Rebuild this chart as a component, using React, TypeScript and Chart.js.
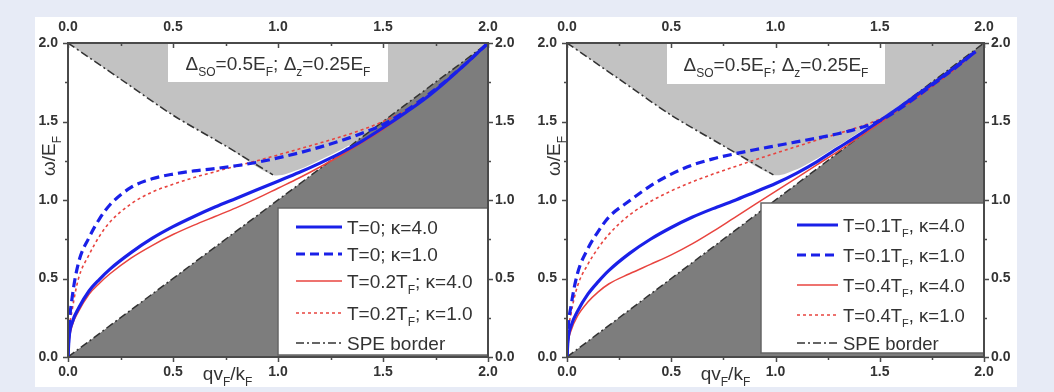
import React, { useEffect, useRef } from 'react';
import { Chart, registerables } from 'chart.js';

Chart.register(...registerables);

// ---------- data ----------
const TICK_LABELS = ['0.0', '0.5', '1.0', '1.5', '2.0'];
const TICK_VALUES = [0, 0.25, 0.5, 0.75, 1, 1.25, 1.5, 1.75, 2];

// left panel
const Q_LEFT = [0, 0.005, 0.02, 0.05, 0.1, 0.15, 0.2, 0.3, 0.4, 0.5, 0.6, 0.7, 0.8, 0.9, 1.0, 1.1, 1.2, 1.3, 1.4, 1.5, 1.6, 1.7, 1.8, 1.9, 2.0];
const L_T0_K4 = [0, 0.12, 0.22, 0.31, 0.42, 0.495, 0.56, 0.665, 0.755, 0.83, 0.895, 0.955, 1.01, 1.065, 1.12, 1.175, 1.235, 1.3, 1.375, 1.46, 1.55, 1.645, 1.755, 1.875, 2.0];
const L_T0_K1 = [0, 0.18, 0.38, 0.6, 0.76, 0.88, 0.97, 1.08, 1.135, 1.165, 1.185, 1.2, 1.218, 1.24, 1.268, 1.3, 1.337, 1.378, 1.425, 1.48, 1.56, 1.655, 1.76, 1.875, 2.0];
const L_T02_K4 = [0, 0.1, 0.2, 0.29, 0.4, 0.47, 0.53, 0.63, 0.71, 0.78, 0.84, 0.895, 0.95, 1.01, 1.075, 1.14, 1.21, 1.285, 1.365, 1.45, 1.545, 1.645, 1.75, 1.87, 2.0];
const L_T02_K1 = [0, 0.15, 0.3, 0.5, 0.65, 0.77, 0.86, 0.975, 1.05, 1.1, 1.143, 1.18, 1.215, 1.25, 1.287, 1.325, 1.363, 1.403, 1.447, 1.5, 1.565, 1.65, 1.755, 1.87, 2.0];
const L_GRAY_Q = [0, 0.25, 0.5, 0.75, 0.976, 1.1, 1.2, 1.3, 1.4, 1.5, 1.6, 1.7, 1.8, 1.9, 2.0];
const L_GRAY_W = [2, 1.77, 1.54, 1.345, 1.16, 1.195, 1.255, 1.32, 1.395, 1.48, 1.57, 1.665, 1.77, 1.885, 2.0];
const L_SPE_UP_Q = [0, 0.25, 0.5, 0.75, 0.976];
const L_SPE_UP_W = [2, 1.77, 1.54, 1.345, 1.16];

// right panel
const Q_RIGHT = [0, 0.005, 0.02, 0.05, 0.1, 0.15, 0.2, 0.3, 0.4, 0.5, 0.6, 0.7, 0.8, 0.9, 1.0, 1.1, 1.2, 1.3, 1.4, 1.5, 1.6, 1.7, 1.8, 1.9, 1.96];
const R_T01_K4 = [0, 0.11, 0.2, 0.29, 0.4, 0.48, 0.55, 0.66, 0.75, 0.825, 0.89, 0.945, 0.995, 1.05, 1.105, 1.17, 1.245, 1.33, 1.415, 1.505, 1.595, 1.69, 1.785, 1.885, 1.945];
const R_T01_K1 = [0, 0.17, 0.33, 0.53, 0.69, 0.8, 0.89, 0.995, 1.09, 1.165, 1.222, 1.262, 1.293, 1.32, 1.345, 1.37, 1.395, 1.422, 1.457, 1.505, 1.585, 1.68, 1.78, 1.88, 1.95];
const R_T04_K4 = [0, 0.09, 0.17, 0.26, 0.35, 0.415, 0.465, 0.53, 0.59, 0.65, 0.72, 0.8, 0.885, 0.97, 1.055, 1.14, 1.225, 1.31, 1.4, 1.49, 1.585, 1.68, 1.78, 1.88, 1.94];
const R_T04_K1 = [0, 0.14, 0.28, 0.45, 0.59, 0.695, 0.78, 0.905, 0.99, 1.058, 1.115, 1.165, 1.21, 1.255, 1.298, 1.34, 1.382, 1.423, 1.465, 1.515, 1.58, 1.67, 1.77, 1.875, 1.945];
const R_GRAY_Q = [0, 0.25, 0.5, 0.75, 0.99, 1.1, 1.2, 1.3, 1.4, 1.5, 1.6, 1.7, 1.8, 1.9, 2.0];
const R_GRAY_W = [2, 1.77, 1.54, 1.345, 1.16, 1.195, 1.265, 1.345, 1.43, 1.515, 1.605, 1.7, 1.795, 1.895, 2.0];
const R_SPE_UP_Q = [0, 0.25, 0.5, 0.75, 0.99];
const R_SPE_UP_W = [2, 1.77, 1.54, 1.345, 1.16];

const SPE_DIAG_Q = [0, 2];
const SPE_DIAG_W = [0, 2];

const LEFT_LABELS = ['T=0; κ=4.0', 'T=0; κ=1.0', 'T=0.2T_{F}; κ=4.0', 'T=0.2T_{F}; κ=1.0', 'SPE border'];
const RIGHT_LABELS = ['T=0.1T_{F}, κ=4.0', 'T=0.1T_{F}, κ=1.0', 'T=0.4T_{F}, κ=4.0', 'T=0.4T_{F}, κ=1.0', 'SPE border'];
const ANNOTATION = 'Δ_{SO}=0.5E_{F}; Δ_{z}=0.25E_{F}';
const X_TITLE = 'qv_{F}/k_{F}';
const Y_TITLE = 'ω/E_{F}';

// ---------- styles ----------
const FONT = '"Liberation Sans", Arial, Helvetica, sans-serif';
const TEXT = '#333333';
const BLUE = '#1a20e8';
const RED = '#e8443f';
const SPE_COLOR = '#333333';
const SPE_DASH = [8, 3, 2, 3];
const DARK_GRAY = '#7d7d7d';
const LIGHT_GRAY = '#c2c2c2';
const CURVE_STYLES = [
  { color: BLUE, width: 3.2, dash: [] as number[] },
  { color: BLUE, width: 3.2, dash: [9, 5] },
  { color: RED, width: 1.5, dash: [] as number[] },
  { color: RED, width: 1.6, dash: [3, 3] },
];

const pts = (q: number[], w: number[]) => q.map((x, i) => ({ x, y: w[i] }));

function parseRich(s: string) {
  const parts: { t: string; sub: boolean }[] = [];
  const re = /_\{([^}]*)\}/g;
  let last = 0;
  let m: RegExpExecArray | null;
  while ((m = re.exec(s))) {
    if (m.index > last) parts.push({ t: s.slice(last, m.index), sub: false });
    parts.push({ t: m[1], sub: true });
    last = re.lastIndex;
  }
  if (last < s.length) parts.push({ t: s.slice(last), sub: false });
  return parts;
}

function drawRich(ctx: CanvasRenderingContext2D, s: string, x: number, yc: number, size: number, align: 'left' | 'center') {
  const parts = parseRich(s);
  const main = `${size}px ${FONT}`;
  const subF = `${Math.round(size * 0.62)}px ${FONT}`;
  let w = 0;
  for (const p of parts) {
    ctx.font = p.sub ? subF : main;
    w += ctx.measureText(p.t).width;
  }
  let cx = align === 'center' ? x - w / 2 : x;
  const base = yc + size * 0.36;
  ctx.textAlign = 'left';
  ctx.textBaseline = 'alphabetic';
  ctx.fillStyle = TEXT;
  for (const p of parts) {
    ctx.font = p.sub ? subF : main;
    ctx.fillText(p.t, cx, p.sub ? base + size * 0.3 : base);
    cx += ctx.measureText(p.t).width;
  }
}

type PanelCfg = {
  q: number[];
  series: number[][];
  grayQ: number[];
  grayW: number[];
  speQ: number[];
  speW: number[];
  labels: string[];
  leftW: number;
  rightW: number;
  legend: { left: number; top: number; bottom: number; lineFrom: number; lineTo: number; textX: number; rows: number[]; size: number };
  annot: { left: number; width: number; height: number };
  yTitleX: number;
};

const LEFT_CFG: PanelCfg = {
  q: Q_LEFT,
  series: [L_T0_K4, L_T0_K1, L_T02_K4, L_T02_K1],
  grayQ: L_GRAY_Q,
  grayW: L_GRAY_W,
  speQ: L_SPE_UP_Q,
  speW: L_SPE_UP_W,
  labels: LEFT_LABELS,
  leftW: 68,
  rightW: 39,
  legend: { left: 210, top: 208, bottom: 355, lineFrom: 18, lineTo: 64, textX: 69, rows: [19, 46, 73, 105, 135], size: 19 },
  annot: { left: 100, width: 220, height: 38 },
  yTitleX: 48,
};

const RIGHT_CFG: PanelCfg = {
  q: Q_RIGHT,
  series: [R_T01_K4, R_T01_K1, R_T04_K4, R_T04_K1],
  grayQ: R_GRAY_Q,
  grayW: R_GRAY_W,
  speQ: R_SPE_UP_Q,
  speW: R_SPE_UP_W,
  labels: RIGHT_LABELS,
  leftW: 40,
  rightW: 70,
  legend: { left: 223, top: 203, bottom: 353, lineFrom: 36, lineTo: 77, textX: 82, rows: [22, 52, 82, 112, 140], size: 18.5 },
  annot: { left: 100, width: 218, height: 40 },
  yTitleX: 26,
};

function makeConfig(cfg: PanelCfg): any {
  const curves = cfg.series.map((s, i) => ({
    data: pts(cfg.q, s),
    showLine: true,
    borderColor: CURVE_STYLES[i].color,
    borderWidth: CURVE_STYLES[i].width,
    borderDash: CURVE_STYLES[i].dash,
    pointRadius: 0,
    cubicInterpolationMode: 'monotone',
    fill: false,
    order: 0,
  }));
  const datasets = [
    ...curves,
    { data: pts(SPE_DIAG_Q, SPE_DIAG_W), showLine: true, borderColor: SPE_COLOR, borderWidth: 1.5, borderDash: SPE_DASH, pointRadius: 0, fill: false, order: 1 },
    { data: pts(cfg.speQ, cfg.speW), showLine: true, borderColor: SPE_COLOR, borderWidth: 1.5, borderDash: SPE_DASH, pointRadius: 0, tension: 0.3, fill: false, order: 1 },
    { data: pts(SPE_DIAG_Q, SPE_DIAG_W), showLine: true, borderWidth: 0, borderColor: 'rgba(0,0,0,0)', backgroundColor: DARK_GRAY, pointRadius: 0, fill: 'start', order: 3 },
    { data: pts(cfg.grayQ, cfg.grayW), showLine: true, borderWidth: 0, borderColor: 'rgba(0,0,0,0)', backgroundColor: LIGHT_GRAY, pointRadius: 0, tension: 0.3, fill: 'end', order: 3 },
  ];

  const tickFont = { family: FONT, size: 14, weight: 'bold' };
  const baseAxis = (position: string, extra: any) => ({
    type: 'linear',
    position,
    min: 0,
    max: 2,
    grid: { display: false, drawTicks: false },
    border: { display: false },
    ticks: {
      stepSize: 0.5,
      autoSkip: false,
      maxRotation: 0,
      color: TEXT,
      font: tickFont,
      callback: (_v: any, i: number) => TICK_LABELS[i],
      ...extra.ticks,
    },
    afterFit: extra.afterFit,
  });

  const overlay = {
    id: 'overlay',
    afterDatasetsDraw(chart: any) {
      const { ctx, chartArea: ca } = chart;
      ctx.save();
      // annotation box
      const a = cfg.annot;
      ctx.fillStyle = '#ffffff';
      ctx.fillRect(ca.left + a.left, ca.top + 1, a.width, a.height);
      drawRich(ctx, ANNOTATION, ca.left + a.left + a.width / 2, ca.top + a.height / 2 + 1, 19, 'center');

      // legend box
      const L = cfg.legend;
      const bx = ca.right - L.left;
      ctx.fillStyle = '#ffffff';
      ctx.fillRect(bx, L.top, L.left, L.bottom - L.top);
      ctx.strokeStyle = '#666666';
      ctx.lineWidth = 1.5;
      ctx.strokeRect(bx, L.top, L.left, L.bottom - L.top);
      cfg.labels.forEach((lab, i) => {
        const y = L.top + L.rows[i];
        const st = i < 4 ? CURVE_STYLES[i] : { color: SPE_COLOR, width: 1.5, dash: SPE_DASH };
        ctx.beginPath();
        ctx.strokeStyle = st.color;
        ctx.lineWidth = st.width;
        ctx.setLineDash(st.dash);
        ctx.moveTo(bx + L.lineFrom, y);
        ctx.lineTo(bx + L.lineTo, y);
        ctx.stroke();
        ctx.setLineDash([]);
        drawRich(ctx, lab, bx + L.textX, y, L.size, 'left');
      });
      ctx.restore();
    },
    afterDraw(chart: any) {
      const { ctx, chartArea: ca, scales } = chart;
      ctx.save();
      ctx.strokeStyle = '#4a4a4a';
      ctx.lineWidth = 1.5;
      ctx.setLineDash([]);
      TICK_VALUES.forEach((v) => {
        const major = Math.abs(v * 2 - Math.round(v * 2)) < 1e-6;
        const len = major ? 5 : 3;
        const px = Math.round(scales.x.getPixelForValue(v)) + 0.5;
        const py = Math.round(scales.y.getPixelForValue(v)) + 0.5;
        ctx.beginPath();
        ctx.moveTo(px, ca.bottom); ctx.lineTo(px, ca.bottom + len);
        ctx.moveTo(px, ca.top); ctx.lineTo(px, ca.top + len);
        ctx.moveTo(ca.left, py); ctx.lineTo(ca.left - len, py);
        ctx.moveTo(ca.right, py); ctx.lineTo(ca.right + len, py);
        ctx.stroke();
      });
      ctx.lineWidth = 2;
      ctx.strokeRect(ca.left, ca.top, ca.right - ca.left, ca.bottom - ca.top);
      // axis titles
      drawRich(ctx, X_TITLE, ca.left + 0.38 * (ca.right - ca.left), ca.bottom + 16, 19, 'center');
      ctx.save();
      ctx.translate(cfg.yTitleX, 156);
      ctx.rotate(-Math.PI / 2);
      drawRich(ctx, Y_TITLE, 0, 0, 19, 'center');
      ctx.restore();
      ctx.restore();
    },
  };

  return {
    type: 'scatter',
    data: { datasets },
    options: {
      animation: false,
      responsive: false,
      devicePixelRatio: 1,
      events: [],
      layout: { padding: 0 },
      plugins: { legend: { display: false }, tooltip: { enabled: false }, title: { display: false } },
      scales: {
        x: baseAxis('bottom', { ticks: { padding: 7 }, afterFit: (s: any) => { s.height = 35; } }),
        x2: baseAxis('top', { ticks: { padding: 7 }, afterFit: (s: any) => { s.height = 43; } }),
        y: baseAxis('left', { ticks: { padding: 10 }, afterFit: (s: any) => { s.width = cfg.leftW; } }),
        y2: baseAxis('right', { ticks: { padding: 7 }, afterFit: (s: any) => { s.width = cfg.rightW; } }),
      },
    },
    plugins: [overlay],
  };
}

function Panel({ cfg, left }: { cfg: PanelCfg; left: number }) {
  const ref = useRef<HTMLCanvasElement>(null);
  useEffect(() => {
    const chart = new Chart(ref.current as HTMLCanvasElement, makeConfig(cfg));
    return () => chart.destroy();
  }, [cfg]);
  return (
    <canvas
      ref={ref}
      width={527}
      height={392}
      style={{ position: 'absolute', left, top: 0, width: 527, height: 392 }}
    />
  );
}

export default function App() {
  return (
    <div style={{ position: 'absolute', left: 0, top: 0, width: 1054, height: 392, background: '#e7ebf6', overflow: 'hidden' }}>
      <div style={{ position: 'absolute', left: 35, top: 17, width: 982, height: 370, background: '#ffffff' }} />
      <Panel cfg={LEFT_CFG} left={0} />
      <Panel cfg={RIGHT_CFG} left={527} />
    </div>
  );
}
